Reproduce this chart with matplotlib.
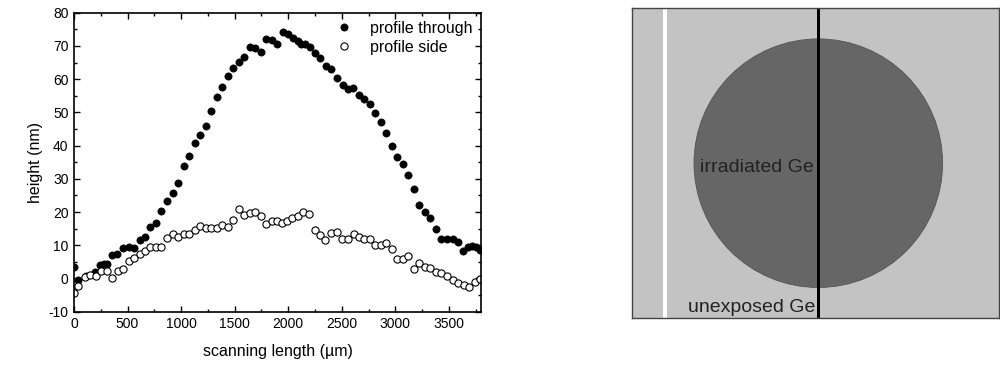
import matplotlib
matplotlib.use("Agg")
import matplotlib.pyplot as plt
from matplotlib.patches import Rectangle, Circle
from matplotlib.ticker import MultipleLocator

plt.rcParams['font.family'] = ['Liberation Sans', 'DejaVu Sans']
plt.rcParams['axes.unicode_minus'] = False

# ---- data ----
through_x = [0, 40, 110, 196, 245, 280, 306, 355, 400, 456, 509, 556, 612, 666, 712,
             769, 816, 869, 922, 972, 1025, 1078, 1128, 1181, 1228, 1281, 1338, 1384,
             1438, 1488, 1541, 1591, 1641, 1694, 1744, 1794, 1844, 1894, 1950, 1997,
             2041, 2087, 2120, 2160, 2199, 2252, 2299, 2352, 2402, 2455, 2508, 2555,
             2608, 2657, 2710, 2760, 2813, 2866, 2916, 2969, 3016, 3069, 3121, 3174,
             3224, 3277, 3327, 3380, 3430, 3483, 3536, 3586, 3633, 3675, 3713, 3755, 3790]
through_y = [3.6, -0.5, 0.6, 2.0, 4.1, 4.4, 4.5, 7.1, 7.4, 9.1, 9.6, 9.1, 11.6, 12.4, 15.4,
             16.6, 20.3, 23.3, 25.8, 28.7, 34.0, 37.0, 40.9, 43.3, 46.0, 50.4, 54.5, 57.7,
             60.9, 63.5, 65.1, 66.8, 69.8, 69.4, 68.2, 72.1, 71.8, 70.7, 74.3, 73.5,
             72.5, 71.5, 70.6, 70.6, 69.6, 67.9, 66.5, 64.0, 63.0, 60.2, 58.2, 57.1,
             57.2, 55.2, 54.1, 52.4, 49.9, 47.1, 43.9, 39.9, 36.7, 34.4, 31.2, 27.0,
             22.1, 20.1, 18.1, 14.8, 11.8, 11.8, 12.0, 11.1, 8.4, 9.4, 9.8, 9.6, 8.6]

side_x = [0, 40, 100, 150, 203, 253, 306, 359, 409, 456, 509, 562, 612, 666, 712, 769,
          816, 869, 922, 972, 1025, 1078, 1128, 1181, 1228, 1281, 1338, 1384, 1438, 1488,
          1541, 1591, 1641, 1694, 1744, 1794, 1844, 1894, 1944, 1990, 2037, 2087, 2137,
          2193, 2246, 2293, 2346, 2399, 2452, 2502, 2555, 2611, 2657, 2710, 2760, 2813,
          2866, 2916, 2969, 3016, 3069, 3121, 3174, 3224, 3277, 3327, 3380, 3430, 3483,
          3536, 3586, 3639, 3688, 3741, 3788]
side_y = [-4.3, -2.4, 0.35, 1.05, 0.75, 2.4, 2.4, 0.0, 2.4, 2.8, 5.3, 6.3, 7.4, 8.3, 9.6, 9.4,
          9.6, 12.1, 13.4, 12.6, 13.3, 13.3, 14.6, 15.9, 15.2, 15.3, 15.3, 16.0, 15.6, 17.5,
          20.8, 19.1, 19.6, 20.1, 18.9, 16.4, 17.3, 17.4, 16.8, 17.3, 18.1, 18.8, 20.0,
          19.4, 14.6, 13.1, 11.6, 13.6, 13.9, 11.8, 11.8, 13.3, 12.6, 12.0, 11.8, 10.1,
          10.1, 10.8, 8.8, 5.8, 5.9, 6.9, 3.0, 4.6, 3.6, 3.3, 2.1, 1.6, 0.6,
          -0.45, -1.5, -2.0, -2.7, -1.2, -0.3]

series_labels = ["profile through", "profile side"]
x_label = "scanning length (\u00b5m)"
y_label = "height (nm)"
label_irradiated = "irradiated Ge"
label_unexposed = "unexposed Ge"

W, H = 1000, 367
fig = plt.figure(figsize=(W / 100, H / 100), dpi=100)

# ---- left chart ----
ax = fig.add_axes([74 / W, 1 - 311.7 / H, (481 - 74) / W, (311.7 - 12.7) / H])
ax.plot(through_x, through_y, 'o', color='black', ms=5.2, mew=0.5, label=series_labels[0])
ax.plot(side_x, side_y, 'o', mfc='white', mec='black', ms=5.2, mew=0.8, label=series_labels[1])
ax.set_xlim(0, 3800)
ax.set_ylim(-10, 80)
ax.xaxis.set_major_locator(MultipleLocator(500))
ax.xaxis.set_minor_locator(MultipleLocator(250))
ax.yaxis.set_major_locator(MultipleLocator(10))
ax.yaxis.set_minor_locator(MultipleLocator(5))
ax.tick_params(which='both', direction='in', top=True, right=True, labelsize=10, width=1)
ax.tick_params(which='major', length=4.5, pad=4)
ax.tick_params(which='minor', length=2.5)
for s in ax.spines.values():
    s.set_linewidth(1.2)
ax.set_xlabel(x_label, fontsize=11.5, labelpad=9)
ax.set_ylabel(y_label, fontsize=11.5, labelpad=4)
ax.legend(loc='upper left', frameon=False, fontsize=11.5, handletextpad=0.9,
          borderaxespad=0.0, labelspacing=0.25, handlelength=1.5,
          bbox_to_anchor=(0.618, 0.994))

# ---- right schematic (pixel coordinates) ----
x0, x1, y0, y1 = 632, 999, 8, 318
ax2 = fig.add_axes([x0 / W, 1 - y1 / H, (x1 - x0) / W, (y1 - y0) / H])
ax2.set_xlim(x0, x1)
ax2.set_ylim(y1, y0)
ax2.set_facecolor('#c2c3c2')
ax2.set_xticks([])
ax2.set_yticks([])
for s in ax2.spines.values():
    s.set_color('#444444')
    s.set_linewidth(1.0)
ax2.add_patch(Circle((818.3, 163.2), 124.3, facecolor='#666666', edgecolor='#555555', lw=0.6))
ax2.add_patch(Rectangle((662.8, y0 - 1), 3.8, y1 - y0 + 2, facecolor='white', edgecolor='none'))
ax2.add_patch(Rectangle((816.6, y0 - 1), 3.6, y1 - y0 + 2, facecolor='black', edgecolor='none'))
ax2.text(814, 167, label_irradiated, fontsize=14, color='#222222', ha='right', va='center')
ax2.text(815, 308, label_unexposed, fontsize=14, color='#222222', ha='right', va='center')

fig.savefig('out.png', dpi=100)
